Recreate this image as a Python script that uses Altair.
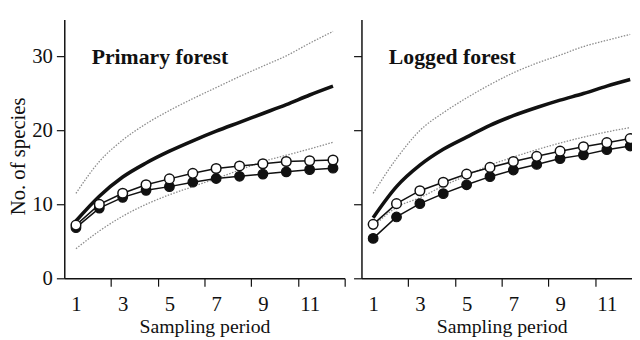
import altair as alt
import pandas as pd

periods = list(range(1, 13))
x_labels = [1, 3, 5, 7, 9, 11]
y_ticks = [0, 10, 20, 30]
panel_titles = ["Primary forest", "Logged forest"]

# Primary forest
primary_filled = [6.85, 9.5, 10.95, 11.9, 12.4, 13.0, 13.5, 13.8, 14.1, 14.4, 14.7, 14.9]
primary_open = [7.2, 10.0, 11.5, 12.65, 13.45, 14.2, 14.85, 15.2, 15.5, 15.8, 15.9, 16.0]
primary_est = [7.75, 11.1, 13.7, 15.6, 17.2, 18.6, 19.9, 21.1, 22.3, 23.5, 24.8, 26.0]
primary_upper = [11.5, 15.8, 18.7, 20.9, 22.7, 24.3, 25.8, 27.3, 28.7, 30.1, 31.8, 33.4]
primary_lower = [4.0, 6.4, 8.4, 10.0, 11.3, 12.4, 13.5, 14.65, 15.8, 16.65, 17.5, 18.4]

# Logged forest
logged_filled = [5.4, 8.3, 10.1, 11.45, 12.65, 13.75, 14.65, 15.4, 16.2, 16.7, 17.4, 17.9]
logged_open = [7.3, 10.1, 11.85, 13.0, 14.1, 15.0, 15.8, 16.5, 17.2, 17.8, 18.35, 18.9]
logged_est = [8.2, 12.4, 15.3, 17.45, 19.1, 20.7, 22.0, 23.1, 24.1, 25.0, 26.0, 26.9]
logged_upper = [11.5, 16.2, 20.0, 22.4, 24.4, 26.2, 27.8, 29.1, 30.2, 31.35, 32.2, 33.0]
logged_lower = [7.0, 9.6, 10.9, 12.5, 13.9, 15.3, 16.4, 17.4, 18.3, 19.1, 19.8, 20.4]

FONT = "Liberation Serif"
INK = "#111111"
UNIT = 284 / 12.0

AXIS_STYLE = dict(
    domainColor=INK, domainWidth=1.5, tickColor=INK, tickWidth=1.2, tickSize=8,
    labelFont=FONT, labelFontSize=21, labelColor=INK,
    titleFont=FONT, titleColor=INK, titleFontWeight="normal", grid=False,
)


def long_df(filled, opened, est, upper, lower):
    rows = []
    for name, vals in [("filled", filled), ("open", opened), ("est", est),
                       ("upper", upper), ("lower", lower)]:
        for p, v in zip(periods, vals):
            rows.append({"period": p, "series": name, "value": v})
    return pd.DataFrame(rows)


def panel(title, df, left, width):
    xmax = 0.5 + width / UNIT
    xs = alt.Scale(domain=[0.5, xmax], nice=False, zero=False)
    ys = alt.Scale(domain=[0, 35], nice=False, zero=True)
    xaxis = alt.Axis(
        values=[-1] + x_labels,
        tickOffset=1.5 * UNIT,
        labelOffset=-1.5 * UNIT,
        labelExpr="datum.value < 0 ? '' : datum.label",
        title="Sampling period",
        titleX=142,
        titleY=54.5,
        titleBaseline="alphabetic",
        titleFontSize=20,
        labelPadding=8,
        **AXIS_STYLE,
    )
    if left:
        yaxis = alt.Axis(values=y_ticks, title="No. of species", titleX=-40,
                         titleY=138, titleBaseline="alphabetic", titleAngle=270,
                         titleFontSize=21, labelPadding=4, **AXIS_STYLE)
    else:
        yaxis = alt.Axis(values=y_ticks, title=None, labels=False, **AXIS_STYLE)

    base = alt.Chart(df)
    X = alt.X("period:Q", scale=xs, axis=xaxis)
    Y = alt.Y("value:Q", scale=ys, axis=yaxis)

    def sel(s):
        return base.transform_filter(alt.datum.series == s)

    upper = sel("upper").mark_line(color="#8c8c8c", strokeWidth=1.3, strokeDash=[1.5, 1.5],
                                   interpolate="monotone").encode(x=X, y=Y)
    lower = sel("lower").mark_line(color="#8c8c8c", strokeWidth=1.3, strokeDash=[1.5, 1.5],
                                   interpolate="monotone").encode(x=X, y=Y)
    est = sel("est").mark_line(color=INK, strokeWidth=3.6, interpolate="monotone").encode(x=X, y=Y)
    fline = sel("filled").mark_line(color=INK, strokeWidth=1.5).encode(x=X, y=Y)
    fpts = sel("filled").mark_point(shape="circle", filled=True, fill=INK, stroke=INK,
                                    strokeWidth=1.2, size=95, opacity=1).encode(x=X, y=Y)
    oline = sel("open").mark_line(color=INK, strokeWidth=1.5).encode(x=X, y=Y)
    opts = sel("open").mark_point(shape="circle", filled=True, fill="white", stroke=INK,
                                  strokeWidth=1.5, size=95, opacity=1).encode(x=X, y=Y)
    label = alt.Chart(pd.DataFrame({"t": [title]})).mark_text(
        font=FONT, fontWeight="bold", fontSize=22, align="left", baseline="alphabetic",
        color=INK).encode(text="t:N", x=alt.value(27.7), y=alt.value(44.5))

    return alt.layer(upper, lower, est, fline, fpts, oline, opts, label).properties(
        width=width, height=262)


left_panel = panel(panel_titles[0], long_df(primary_filled, primary_open, primary_est,
                                            primary_upper, primary_lower), True, 284)
right_panel = panel(panel_titles[1], long_df(logged_filled, logged_open, logged_est,
                                             logged_upper, logged_lower), False, 275)

chart = alt.hconcat(left_panel, right_panel, spacing=5).properties(
    autosize=alt.AutoSizeParams(type="none"),
    padding={"left": 57, "top": 8, "right": 575, "bottom": 316},
    background="white",
).configure_view(stroke="transparent")

chart.save("out.html", embed_options={"renderer": "svg", "actions": False})
